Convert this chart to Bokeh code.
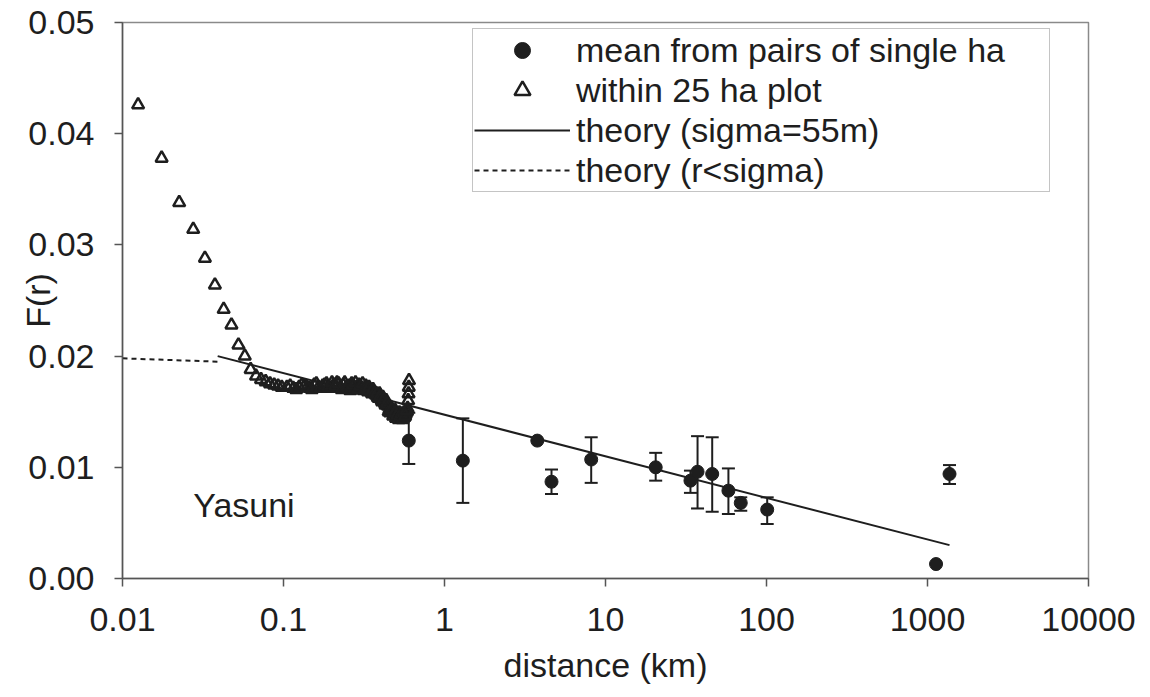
from bokeh.plotting import figure
from bokeh.models import (Range1d, FixedTicker, PrintfTickFormatter, CustomJSTickFormatter,
                          Whisker, TeeHead, ColumnDataSource, Legend, LegendItem, Label)
from bokeh.embed import file_html
from bokeh.resources import INLINE

# ---------------- data ----------------
# triangles: within 25 ha plot
tri_x = [0.0125, 0.0175, 0.0225, 0.0275, 0.0325, 0.0375, 0.0425, 0.0475, 0.0525, 0.0575,
         0.0625, 0.0675, 0.0725, 0.0775, 0.0825, 0.0875, 0.0925, 0.0975,
         0.105, 0.115, 0.125, 0.135, 0.145, 0.155, 0.165, 0.175, 0.185, 0.195,
         0.205, 0.215, 0.225, 0.235, 0.245, 0.255, 0.265, 0.275, 0.285, 0.295,
         0.305, 0.315, 0.325, 0.335, 0.345, 0.355, 0.365, 0.375, 0.385, 0.395,
         0.405, 0.415, 0.425, 0.435, 0.445, 0.455, 0.465, 0.475, 0.485, 0.495,
         0.505, 0.515, 0.525, 0.535, 0.545, 0.555, 0.565, 0.575, 0.585, 0.590,
         0.595, 0.598, 0.600, 0.602]
tri_y = [0.0426, 0.0378, 0.0338, 0.0314, 0.0288, 0.0264, 0.0242, 0.0228, 0.0210, 0.0200,
         0.0188, 0.0182, 0.0179, 0.0177, 0.0175, 0.0174, 0.0173, 0.0172,
         0.0172, 0.0171, 0.0172, 0.0173, 0.0171, 0.0174, 0.0172, 0.0173, 0.0175, 0.0171,
         0.0174, 0.0176, 0.0172, 0.0174, 0.0171, 0.0173, 0.0175, 0.0170, 0.0172, 0.0174,
         0.0171, 0.0169, 0.0173, 0.0168, 0.0170, 0.0166, 0.0168, 0.0165, 0.0163, 0.0166,
         0.0161, 0.0163, 0.0158, 0.0160, 0.0155, 0.0152, 0.0154, 0.0150, 0.0148, 0.0151,
         0.0147, 0.0145, 0.0149, 0.0146, 0.0144, 0.0147, 0.0145, 0.0148, 0.0150, 0.0153,
         0.0160, 0.0166, 0.0172, 0.0178]
# further triangles in the dense band (0.1 - 0.6 km)
band_x = [0.110, 0.120, 0.130, 0.140, 0.150, 0.160, 0.170, 0.180, 0.190, 0.200,
          0.210, 0.220, 0.230, 0.240, 0.250, 0.260, 0.270, 0.280, 0.290, 0.300,
          0.310, 0.320, 0.330, 0.340, 0.350, 0.360, 0.370, 0.380, 0.390, 0.400,
          0.410, 0.420, 0.430, 0.440, 0.450, 0.460, 0.470, 0.480, 0.490, 0.500,
          0.510, 0.520, 0.530, 0.540, 0.550, 0.560, 0.570, 0.580]
band_y = [0.0173, 0.0170, 0.0174, 0.0172, 0.0170, 0.0175, 0.0171, 0.0174, 0.0172, 0.0176,
          0.0173, 0.0175, 0.0170, 0.0176, 0.0172, 0.0169, 0.0174, 0.0176, 0.0170, 0.0173,
          0.0175, 0.0170, 0.0171, 0.0172, 0.0168, 0.0170, 0.0167, 0.0166, 0.0162, 0.0164,
          0.0159, 0.0161, 0.0156, 0.0157, 0.0150, 0.0149, 0.0152, 0.0146, 0.0149, 0.0144,
          0.0147, 0.0143, 0.0146, 0.0148, 0.0143, 0.0149, 0.0146, 0.0151]

# circles: mean from pairs of single ha, with error bars
pair_x = [0.6, 1.3, 3.77, 4.62, 8.15, 20.5, 33.7, 37.3, 46.0, 58.0, 69.2, 101.0, 1130.0, 1370.0]
pair_y = [0.0124, 0.0106, 0.0124, 0.0087, 0.0107, 0.0100, 0.0088, 0.0096, 0.0094, 0.0079,
          0.0068, 0.0062, 0.0013, 0.0094]
pair_hi = [0.0149, 0.0144, None, 0.0098, 0.0127, 0.0113, 0.0097, 0.0128, 0.0127, 0.0099,
           0.0073, 0.0073, None, 0.0102]
pair_lo = [0.0103, 0.0068, None, 0.0076, 0.0086, 0.0088, 0.0077, 0.0063, 0.0060, 0.0058,
           0.0061, 0.0049, None, 0.0085]

# theory lines
theory_x = [0.039, 1370.0]
theory_y = [0.0200, 0.0030]
small_x = [0.01, 0.039]
small_y = [0.0198, 0.01950]

x_ticks = [0.01, 0.1, 1, 10, 100, 1000, 10000]
y_ticks = [0.0, 0.01, 0.02, 0.03, 0.04, 0.05]

FONT = "Liberation Sans"
INK = "#1e1e1e"

p = figure(width=1142, height=695, x_axis_type="log",
           x_range=Range1d(0.01, 10000), y_range=Range1d(0.0, 0.05),
           output_backend="svg", toolbar_location=None,
           min_border_left=122, min_border_right=54, min_border_top=22, min_border_bottom=117)
p.background_fill_color = "white"
p.border_fill_color = "white"
p.outline_line_color = "#8a8a8a"
p.outline_line_width = 1.5
p.xgrid.visible = False
p.ygrid.visible = False

# axes
for ax in (p.xaxis[0], p.yaxis[0]):
    ax.axis_line_color = "#555555"
    ax.axis_line_width = 1.5
    ax.major_tick_line_color = "#555555"
    ax.major_tick_line_width = 1.5
    ax.major_tick_out = 8
    ax.major_tick_in = 0
    ax.minor_tick_out = 0
    ax.minor_tick_in = 0
    ax.major_label_text_font = FONT
    ax.major_label_text_font_size = "34px"
    ax.major_label_text_color = INK
    ax.axis_label_text_font = FONT
    ax.axis_label_text_font_size = "34px"
    ax.axis_label_text_color = INK
    ax.axis_label_text_font_style = "normal"

p.xaxis.ticker = FixedTicker(ticks=x_ticks)
p.xaxis.formatter = CustomJSTickFormatter(code="return tick.toString();")
p.xaxis.major_label_standoff = 21
p.xaxis.axis_label = "distance (km)"
p.xaxis.axis_label_standoff = 12

p.yaxis.ticker = FixedTicker(ticks=y_ticks)
p.yaxis.formatter = PrintfTickFormatter(format="%.2f")
p.yaxis.major_label_standoff = 20
p.yaxis.axis_label = "F(r)"
p.yaxis.axis_label_standoff = -32

# lines
r_theory = p.line(theory_x, theory_y, line_color=INK, line_width=2)
r_small = p.line(small_x, small_y, line_color=INK, line_width=2, line_dash="5 4")

# triangles
r_tri = p.scatter(tri_x + band_x, tri_y + band_y, marker="triangle", size=12, fill_color="white",
                  fill_alpha=0.0, line_color=INK, line_width=2.5)

# error bars
ex = [x for x, h in zip(pair_x, pair_hi) if h is not None]
eh = [h for h in pair_hi if h is not None]
el = [l for l in pair_lo if l is not None]
esrc = ColumnDataSource(data=dict(x=ex, upper=eh, lower=el))
wh = Whisker(source=esrc, base="x", upper="upper", lower="lower", dimension="height",
             line_color=INK, line_width=2,
             upper_head=TeeHead(size=13, line_color=INK, line_width=2),
             lower_head=TeeHead(size=13, line_color=INK, line_width=2))
p.add_layout(wh)

r_pair = p.scatter(pair_x, pair_y, marker="circle", size=13, fill_color=INK, line_color=INK)

# legend
legend = Legend(items=[
    LegendItem(label="mean from pairs of single ha", renderers=[r_pair]),
    LegendItem(label="within 25 ha plot", renderers=[r_tri]),
    LegendItem(label="theory (sigma=55m)", renderers=[r_theory]),
    LegendItem(label="theory (r<sigma)", renderers=[r_small]),
], location=(350, 386))
legend.label_text_font = FONT
legend.label_text_font_size = "34px"
legend.label_text_color = INK
legend.glyph_width = 96
legend.glyph_height = 40
legend.label_height = 40
legend.label_width = 472
legend.label_standoff = 6
legend.spacing = 0
legend.padding = 1
legend.margin = 0
legend.border_line_color = "#8a8a8a"
legend.border_line_width = 1.5
legend.background_fill_color = "white"
legend.background_fill_alpha = 1.0
p.add_layout(legend)

p.add_layout(Label(x=0.0275, y=0.0066, text="Yasuni", text_font=FONT,
                   text_font_size="34px", text_color=INK, text_baseline="middle"))

open("out.html", "w").write(file_html(p, INLINE))
